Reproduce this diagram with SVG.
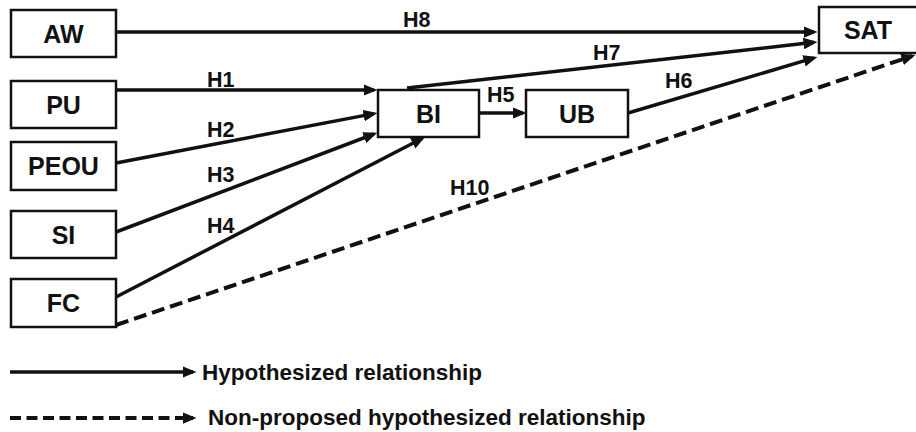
<svg xmlns="http://www.w3.org/2000/svg" width="916" height="432" viewBox="0 0 916 432">
<style>
.box{fill:#fff;stroke:#111;stroke-width:2.5}
.nt{font-family:"Liberation Sans",Arial,sans-serif;font-weight:bold;font-size:25px;fill:#111;text-anchor:middle}
.lb{font-family:"Liberation Sans",Arial,sans-serif;font-weight:bold;font-size:21.5px;fill:#111}
.lg{font-family:"Liberation Sans",Arial,sans-serif;font-weight:bold;font-size:22.5px;fill:#111}
.ln{fill:none;stroke:#111;stroke-width:3.5;marker-end:url(#ah)}
.dl{fill:none;stroke:#111;stroke-width:4;stroke-dasharray:13 6;marker-end:url(#ah)}
</style>
<defs>
<marker id="ah" viewBox="0 0 12 10" refX="9" refY="5" markerWidth="14" markerHeight="12" markerUnits="userSpaceOnUse" orient="auto">
<path d="M0,0 L12,5 L0,10 z" fill="#111"/>
</marker>
</defs>
<rect width="916" height="432" fill="#fff"/>
<g id="connectors">
<line class="ln" x1="116" y1="32" x2="814" y2="32"/>
<line class="ln" x1="407" y1="88" x2="814" y2="42.3"/>
<line class="ln" x1="628" y1="113" x2="814" y2="57.9"/>
<line class="dl" x1="116" y1="325" x2="912" y2="56"/>
<line class="ln" x1="116" y1="90" x2="374" y2="90"/>
<line class="ln" x1="116" y1="163" x2="374" y2="113.6"/>
<line class="ln" x1="116" y1="232" x2="374" y2="134"/>
<line class="ln" x1="116" y1="297" x2="422" y2="138.5"/>
<line class="ln" x1="479" y1="113" x2="523" y2="113"/>
<text class="lb" x="403" y="27">H8</text>
<text class="lb" x="593" y="60">H7</text>
<text class="lb" x="665" y="88">H6</text>
<text class="lb" x="487" y="102">H5</text>
<text class="lb" x="207" y="87">H1</text>
<text class="lb" x="207" y="137">H2</text>
<text class="lb" x="207" y="182">H3</text>
<text class="lb" x="207" y="233">H4</text>
<text class="lb" x="450" y="195">H10</text>
</g>
<g id="AW"><rect class="box" x="11" y="10" width="105" height="47"/><text class="nt" x="63.5" y="42.5">AW</text></g>
<g id="PU"><rect class="box" x="11" y="81" width="105" height="47"/><text class="nt" x="63.5" y="113.5">PU</text></g>
<g id="PEOU"><rect class="box" x="11" y="142" width="105" height="48"/><text class="nt" x="63.5" y="175">PEOU</text></g>
<g id="SI"><rect class="box" x="11" y="211" width="105" height="47"/><text class="nt" x="63.5" y="243.5">SI</text></g>
<g id="FC"><rect class="box" x="11" y="279" width="105" height="48"/><text class="nt" x="63.5" y="312">FC</text></g>
<g id="BI"><rect class="box" x="378" y="90" width="101" height="47"/><text class="nt" x="428.5" y="122.5">BI</text></g>
<g id="UB"><rect class="box" x="526" y="90" width="102" height="47"/><text class="nt" x="577" y="122.5">UB</text></g>
<g id="SAT"><rect class="box" x="819" y="7" width="104" height="46"/><text class="nt" x="868" y="38.5">SAT</text></g>
<g id="legend">
<line class="ln" x1="10" y1="372" x2="193" y2="372"/>
<text class="lg" x="202" y="380">Hypothesized relationship</text>
<line class="ln" x1="10" y1="418" x2="193" y2="418" style="stroke-width:4;stroke-dasharray:11 5.5"/>
<text class="lg" x="208" y="425">Non-proposed hypothesized relationship</text>
</g>
</svg>
